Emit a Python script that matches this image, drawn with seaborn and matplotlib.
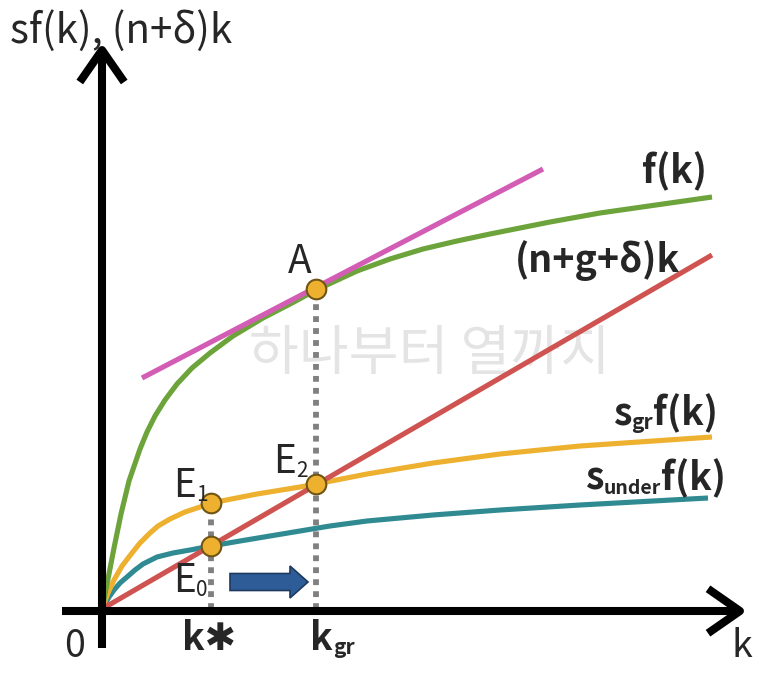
import numpy as np
import pandas as pd
import matplotlib
matplotlib.use("Agg")
import matplotlib.pyplot as plt
import seaborn as sns

k_f = [0, 6, 12, 19, 27, 38, 45, 53, 63, 75, 90, 108, 131, 161, 190, 214,
       255, 288, 321, 355, 388, 448, 498, 610]
f_k = [0, 30, 61, 95, 128, 160, 177, 193, 209, 225, 241, 256, 273, 291, 306, 319,
       338, 350, 360, 368, 375, 387, 396, 412]

k_gr = [0, 6, 12, 20, 30, 38, 48, 56, 68, 83, 98, 109, 155, 198, 214, 265, 331, 398, 478, 610]
s_gr_f = [0, 16, 29, 43, 56, 66, 76, 83, 90, 97, 102, 106, 115, 122, 125, 135, 146, 155, 163, 172]

k_under = [0, 7, 12, 18, 25, 33, 41, 55, 71, 88, 109, 138, 168, 198, 228, 265, 331, 398, 478, 606]
s_under_f = [0, 12, 19, 26, 32, 39, 45, 52, 56, 59, 63, 68, 73, 78, 83, 88, 94, 99, 104, 111]

k_line = [0, 610]
break_even = [0, 354]

k_tan = [40, 441]
tangent = [231, 440]

pt_names = ["A", "E1", "E0", "E2"]
pt_k = [214, 109, 109, 214]
pt_y = [320, 106, 63, 125]

k_star = 109
k_golden = 214

colors = {"f": "#6CA33A", "tan": "#D35CB5", "line": "#CF5451",
          "gr": "#EDB02F", "under": "#2F8A92"}

sns.set_style("white")
plt.rcParams["font.family"] = ["Noto Sans CJK KR", "DejaVu Sans"]

fig = plt.figure(figsize=(7.73, 6.85), dpi=100)
ax = fig.add_axes([0, 0, 1, 1])
ax.set_xlim(-102, 671)
ax.set_ylim(-76, 609)
ax.axis("off")

curves = pd.concat([
    pd.DataFrame({"k": k_under, "y": s_under_f, "c": "under"}),
    pd.DataFrame({"k": k_gr, "y": s_gr_f, "c": "gr"}),
    pd.DataFrame({"k": k_line, "y": break_even, "c": "line"}),
    pd.DataFrame({"k": k_f, "y": f_k, "c": "f"}),
    pd.DataFrame({"k": k_tan, "y": tangent, "c": "tan"}),
])
sns.lineplot(data=curves, x="k", y="y", hue="c", palette=colors, sort=False,
             estimator=None, lw=3.7, legend=False, ax=ax, zorder=3,
             solid_joinstyle="round", solid_capstyle="butt")

# dotted guides
for xv, top in [(k_star, pt_y[1]), (k_golden, pt_y[0])]:
    ax.plot([xv, xv], [0, top], color="#808080", lw=4.2, ls=(0, (1, 1.05)),
            solid_capstyle="butt", zorder=2)

sns.scatterplot(x=pt_k, y=pt_y, s=200, color="#EDB02F", edgecolor="#6E5516",
                linewidth=1.5, ax=ax, zorder=5)

# axes with arrows
arrow = dict(arrowstyle="->,head_length=1.15,head_width=0.8", lw=5.8, color="black",
             shrinkA=0, shrinkB=0, mutation_scale=20, capstyle="butt")
ax.annotate("", xy=(0, 566), xytext=(0, -39), arrowprops=arrow, zorder=6)
ax.annotate("", xy=(645, -2), xytext=(-40, -2), arrowprops=arrow, zorder=6)

# blue shift arrow
ax.arrow(128, 27, 78, 0, width=17, head_width=32, head_length=18,
         length_includes_head=True, fc="#2E5C96", ec="#1E3A60", lw=1.2, zorder=4)

# watermark
ax.text(328, 254, "하나부터 열까지", fontsize=39, color="#E4E4E4", ha="center",
        va="center", zorder=1)

big = 27
sub = 15


def label(x, y, parts, weight="normal"):
    t = ax.text(x, y, parts[0][0], fontsize=parts[0][1], fontweight=weight,
                va="baseline", ha="left", zorder=7)
    for s, fs in parts[1:]:
        t = ax.annotate(s, xy=(1, 0), xycoords=t, fontsize=fs, fontweight=weight,
                        va="bottom", ha="left", zorder=7)
    return t


label(-92, 566, [("sf(k), (n+δ)k", 29)])
label(540, 426, [("f(k)", big)], weight="bold")
label(413, 337, [("(n+g+δ)k", big)], weight="bold")
label(511, 184, [("s", big), ("gr", sub), ("f(k)", big)], weight="bold")
label(483, 119, [("s", big), ("under", 14), ("f(k)", big)], weight="bold")

label(186, 336, [("A", 28)])
label(171, 136, [("E", 28), ("2", 15)])
label(71, 112, [("E", 28), ("1", 15)])
label(71, 17, [("E", 28), ("0", 15)])

ax.text(-27, -48, "0", fontsize=big, ha="center", va="baseline")
ax.text(640, -48, "k", fontsize=big, ha="center", va="baseline")
label(80, -41, [("k✱", big)], weight="bold")
label(208, -41, [("k", big), ("gr", sub)], weight="bold")

fig.savefig("out.png", dpi=100)
